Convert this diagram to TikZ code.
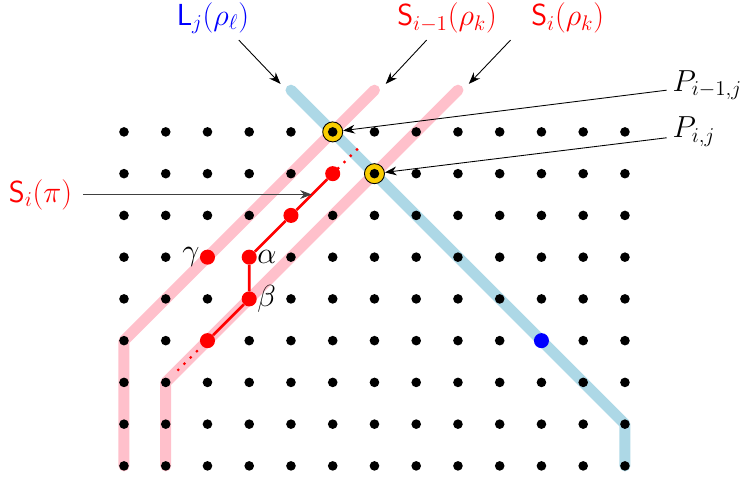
\documentclass[tikz,border=0pt]{standalone}
\usepackage{amsmath,amssymb}
\usepackage[svgnames]{xcolor}
\usepackage{tikz}
\usetikzlibrary{arrows.meta}

\definecolor{bandpink}{RGB}{255,192,203}
\definecolor{bandblue}{RGB}{173,216,230}
\definecolor{crossyellow}{RGB}{250,205,0}

\tikzset{
    band/.style={line width=7.5pt, line cap=round, line join=round},
    gridpt/.style={circle, fill=black, inner sep=0pt, minimum size=2.3mm},
    redpt/.style={circle, fill=red, inner sep=0pt, minimum size=3.6mm},
    crosspt/.style={circle, draw=black, fill=crossyellow, inner sep=0pt, minimum size=4.8mm, line width=0.6pt,
        path picture={\fill[black] (path picture bounding box.center) circle (1.15mm);}},
    lbl/.style={font=\huge},
    pointer/.style={-{Stealth[length=8pt,width=6pt]}, line width=0.6pt},
    redtrail/.style={red, line width=2.2pt, line cap=round, dash pattern=on 0pt off 6pt}
}

\begin{document}
\begin{tikzpicture}
    \useasboundingbox (-2.97,-0.29) rectangle (14.78,11.16);
    % the two strips and the line
    \draw[band, bandblue] (12,0) -- (12,1) -- (4,9);
    \draw[band, bandpink] (0,0) -- (0,3) -- (6,9);
    \draw[band, bandpink] (1,0) -- (1,2) -- (8,9);
    \foreach \x in {0,...,12}
    {
        \foreach \y in {0,...,8}
            \node[gridpt] (g-\x-\y) at (\x,\y) {};
    }
    % the path
    \coordinate (trailstart) at (1.3,2.3);
    \coordinate (trailend) at (5.65,7.65);
    \node[redpt] (p0) at (2,3) {};
    \node[redpt, label={[lbl, inner sep=0pt]right:$\beta$}] (beta) at (3,4) {};
    \node[redpt, label={[lbl, inner sep=0pt]right:$\alpha$}] (alpha) at (3,5) {};
    \node[redpt] (p3) at (4,6) {};
    \node[redpt] (p4) at (5,7) {};
    \node[redpt, label={[lbl, inner sep=0pt]left:$\gamma$}] (gamma) at (2,5) {};
    \draw[red, line width=1.8pt] (p0) -- (beta) -- (alpha) -- (p3) -- (p4);
    \draw[redtrail] (trailstart) -- (p0);
    \draw[redtrail] (p4) -- (trailend);
    \node[circle, fill=blue, inner sep=0pt, minimum size=3.6mm] (bluept) at (10,3) {};
    \node[crosspt] (cross1) at (5,8) {};
    \node[crosspt] (cross2) at (6,7) {};
    % labels
    \node[lbl, blue] (Llab) at (2.13,10.73) {$\mathsf{L}_j(\rho_\ell)$};
    \node[lbl, red] (Simlab) at (7.74,10.73) {$\mathsf{S}_{i-1}(\rho_k)$};
    \node[lbl, red] (Silab) at (10.63,10.73) {$\mathsf{S}_i(\rho_k)$};
    \node[lbl, red] (Spilab) at (-2.0,6.5) {$\mathsf{S}_i(\pi)$};
    \node[lbl, anchor=west, inner sep=1pt] (Pimlab) at (13.1,9.12) {$P_{i-1,j}$};
    \node[lbl, anchor=west, inner sep=1pt] (Pijlab) at (13.1,8.0) {$P_{i,j}$};
    % arrows
    \coordinate (Lfoot) at (2.75,10.2);   \coordinate (Ltip) at (3.75,9.15);
    \coordinate (Simfoot) at (7.25,10.2); \coordinate (Simtip) at (6.27,9.15);
    \coordinate (Sifoot) at (9.26,10.2);  \coordinate (Sitip) at (8.26,9.15);
    \coordinate (Pimfoot) at (13,9);
    \coordinate (Pijfoot) at (13,7.86);
    \coordinate (Spitip) at (4.5,6.5);
    \draw[pointer] (Lfoot) -- (Ltip);
    \draw[pointer] (Simfoot) -- (Simtip);
    \draw[pointer] (Sifoot) -- (Sitip);
    \draw[pointer] (Pimfoot) -- (cross1);
    \draw[pointer] (Pijfoot) -- (cross2);
    \draw[pointer, black!75, shorten <=4pt] (Spilab) -- (Spitip);
\end{tikzpicture}
\end{document}
